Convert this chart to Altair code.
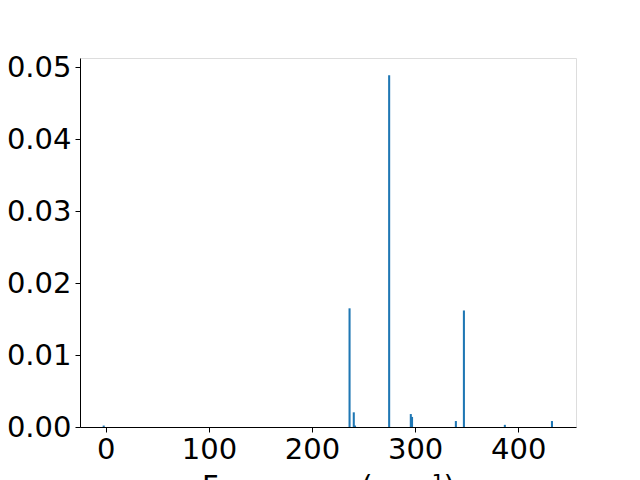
import altair as alt
import pandas as pd

freqs = [-2.0, 236.4, 240.5, 241.7, 274.8, 295.8, 297.0, 339.5, 347.3, 387.0, 432.7]
intensities = [0.0002, 0.0165, 0.00204, 0.0002, 0.0489, 0.0018, 0.0014, 0.00083, 0.0162, 0.0003, 0.00083]

x_ticks = [0, 100, 200, 300, 400]
y_ticks = [0.0, 0.01, 0.02, 0.03, 0.04, 0.05]

df = pd.DataFrame({"freq": freqs, "intensity": intensities})

font = "DejaVu Sans"

chart = (
    alt.Chart(df)
    .transform_calculate(x0="datum.freq - 1", x1="datum.freq + 1")
    .mark_bar(color="#1f77b4")
    .encode(
        x=alt.X(
            "x0:Q",
            scale=alt.Scale(domain=[-25, 456], nice=False, zero=False),
            axis=alt.Axis(
                values=x_ticks,
                title="Frequency (cm⁻¹)",
                format="d",
                labelFontSize=29,
                titleFontSize=29,
                labelFont=font,
                titleFont=font,
                titleFontWeight="normal",
                tickSize=5,
                labelPadding=3,
                titlePadding=8,
                grid=False,
                domainColor="black",
                tickColor="black",
                labelColor="black",
                titleColor="black",
            ),
        ),
        x2="x1:Q",
        y=alt.Y(
            "intensity:Q",
            scale=alt.Scale(domain=[0, 0.0513], nice=False),
            axis=alt.Axis(
                values=y_ticks,
                format=".2f",
                title=None,
                labelFontSize=29,
                labelFont=font,
                tickSize=5,
                labelPadding=4,
                grid=False,
                domainColor="black",
                tickColor="black",
                labelColor="black",
            ),
        ),
        y2=alt.datum(0),
    )
    .properties(
        width=496,
        height=369,
        autosize=alt.AutoSizeParams(type="none"),
        padding={"left": 72, "top": 50, "right": 56, "bottom": 53},
    )
    .configure_view(stroke="black", strokeWidth=1)
    .configure(background="white")
)

chart.save("out.html", embed_options={"renderer": "svg", "actions": False})
